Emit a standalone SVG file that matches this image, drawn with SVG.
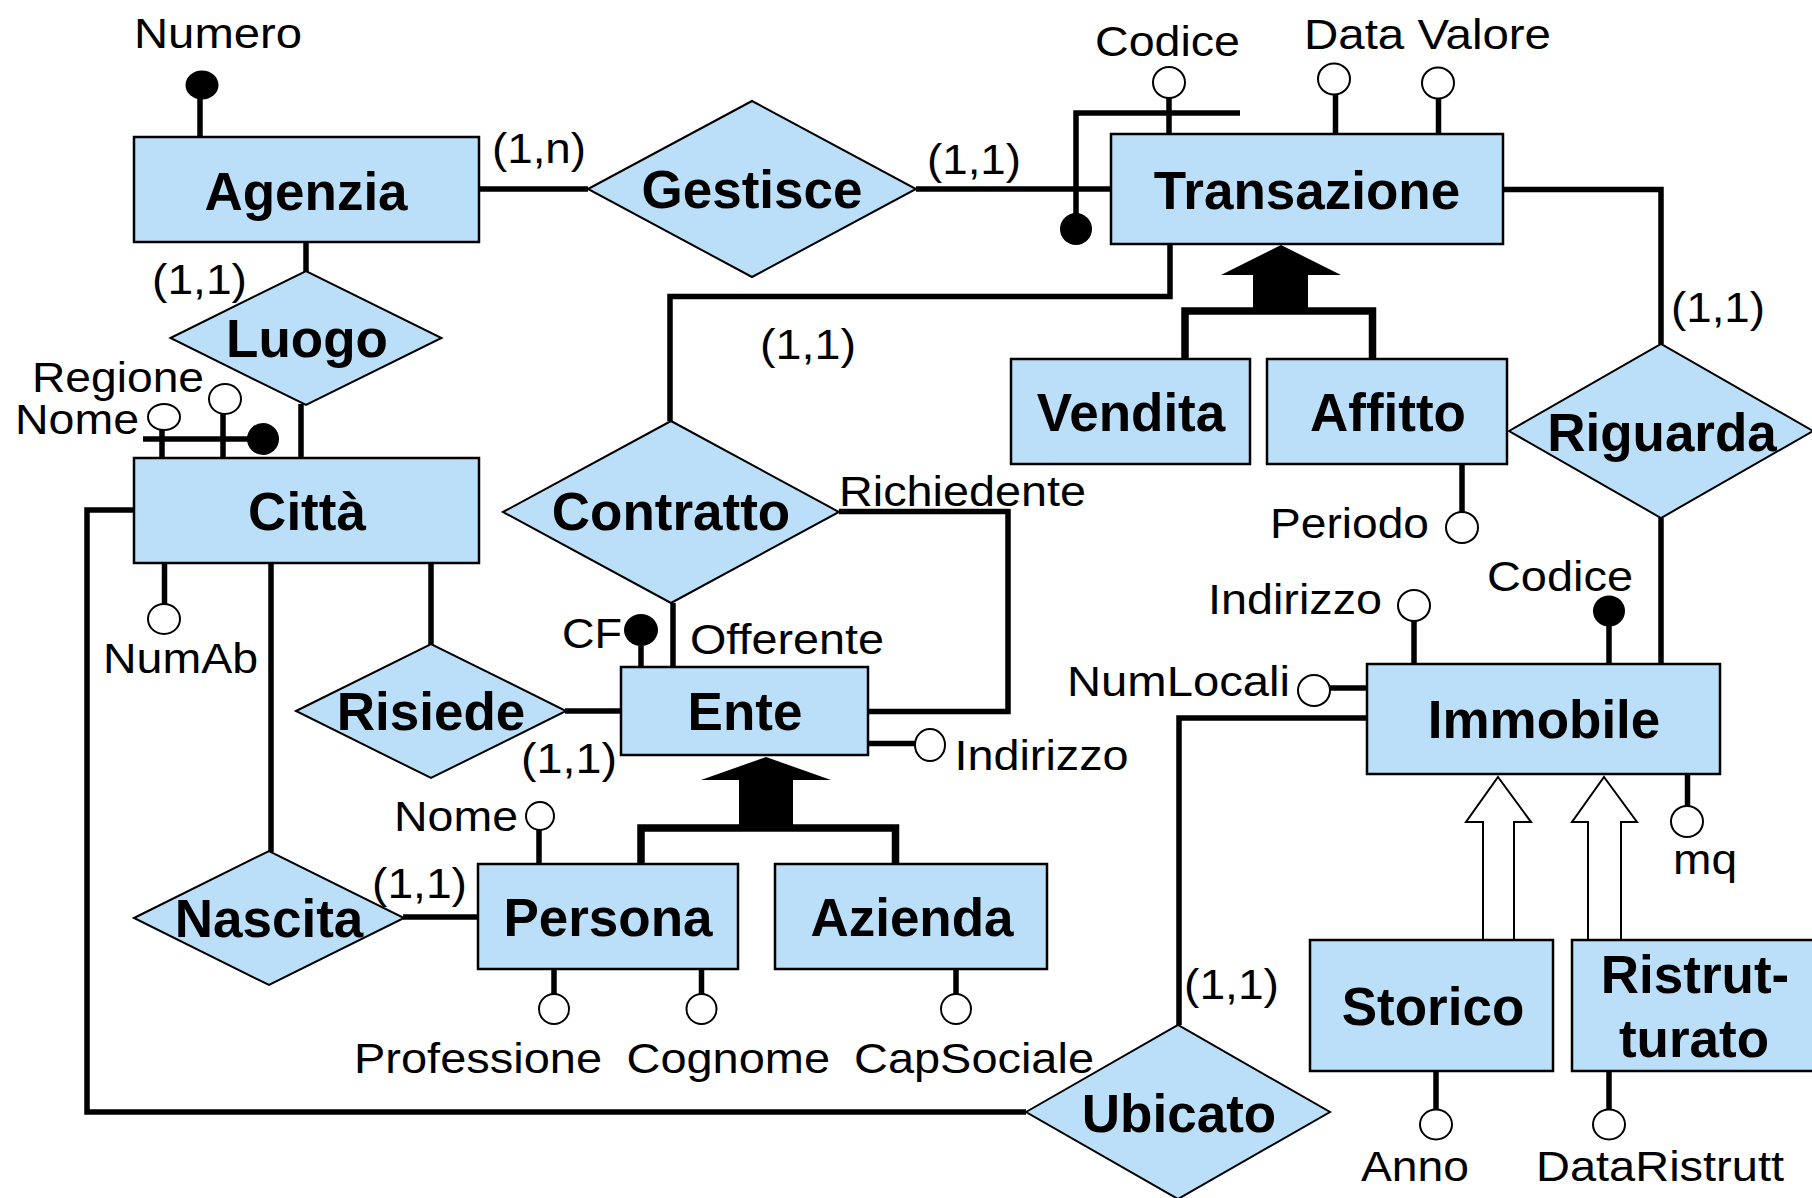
<svg xmlns="http://www.w3.org/2000/svg" width="1812" height="1198" viewBox="0 0 1812 1198">
<style>
.ent{fill:#BBDFF8;stroke:#000;stroke-width:2.5}
.rel{fill:#BBDFF8;stroke:#000;stroke-width:2}
.conn{fill:none;stroke:#000;stroke-width:5.5}
.al{fill:none;stroke:#000;stroke-width:5.5}
.ac{fill:#fff;stroke:#000;stroke-width:2}
.key{fill:#000}
.b{font-family:'Liberation Sans',Arial,sans-serif;font-weight:bold;font-size:53px;text-anchor:middle;fill:#000}
.t{font-family:'Liberation Sans',Arial,sans-serif;font-size:43px;fill:#000}
.isa{fill:#000}
.isaw{fill:#fff;stroke:#000;stroke-width:2}
.bar{fill:none;stroke:#000;stroke-width:7.5}
</style>
<rect width="1812" height="1198" fill="#fff"/>
<g id="connectors">
<path class="conn" d="M479,189 H588"/>
<path class="conn" d="M916,189 H1111"/>
<path class="conn" d="M306,242 V272"/>
<path class="conn" d="M301,404 V458"/>
<path class="conn" d="M1170,244 V296.5 H670 V421"/>
<path class="conn" d="M1503,189.5 H1661 V344"/>
<path class="conn" d="M1661,518 V664"/>
<path class="conn" d="M673,603 V667"/>
<path class="conn" d="M839,511.5 H1008 V711.5 H868"/>
<path class="conn" d="M565,711 H621"/>
<path class="conn" d="M431,563 V645"/>
<path class="conn" d="M271,563 V852"/>
<path class="conn" d="M403,917 H478"/>
<path class="conn" d="M134,510 H87 V1112 H1026"/>
<path class="conn" d="M1367,718 H1179 V1025"/>
<text class="t" x="492" y="163" textLength="94" lengthAdjust="spacingAndGlyphs">(1,n)</text>
<text class="t" x="927" y="174" textLength="94" lengthAdjust="spacingAndGlyphs">(1,1)</text>
<text class="t" x="152" y="294" textLength="95" lengthAdjust="spacingAndGlyphs">(1,1)</text>
<text class="t" x="760" y="359" textLength="96" lengthAdjust="spacingAndGlyphs">(1,1)</text>
<text class="t" x="1671" y="322" textLength="94" lengthAdjust="spacingAndGlyphs">(1,1)</text>
<text class="t" x="839" y="506" textLength="247" lengthAdjust="spacingAndGlyphs">Richiedente</text>
<text class="t" x="690" y="654" textLength="194" lengthAdjust="spacingAndGlyphs">Offerente</text>
<text class="t" x="521" y="773" textLength="96" lengthAdjust="spacingAndGlyphs">(1,1)</text>
<text class="t" x="372" y="898" textLength="95" lengthAdjust="spacingAndGlyphs">(1,1)</text>
<text class="t" x="1184" y="999" textLength="95" lengthAdjust="spacingAndGlyphs">(1,1)</text>
</g>
<g id="agenzia">
<path class="al" d="M200,99 V137"/>
<ellipse class="key" cx="202" cy="85" rx="16.5" ry="14.5"/>
<text class="t" x="134" y="48" textLength="168" lengthAdjust="spacingAndGlyphs">Numero</text>
<rect class="ent" x="134" y="137" width="345" height="105"/>
<text class="b" x="306" y="210">Agenzia</text>
</g>
<g id="gestisce">
<polygon class="rel" points="588,189 752,101 916,189 752,277"/>
<text class="b" x="752" y="208">Gestisce</text>
</g>
<g id="transazione">
<path class="al" d="M1076,229 V113 H1240"/>
<ellipse class="key" cx="1076" cy="229" rx="16" ry="16"/>
<path class="al" d="M1169,98 V134"/>
<ellipse class="ac" cx="1169" cy="82.5" rx="16" ry="15.5"/>
<path class="al" d="M1335.5,94 V134"/>
<ellipse class="ac" cx="1334" cy="79" rx="16" ry="15.5"/>
<path class="al" d="M1438.5,98 V134"/>
<ellipse class="ac" cx="1438" cy="83" rx="16" ry="15.5"/>
<text class="t" x="1095" y="56" textLength="145" lengthAdjust="spacingAndGlyphs">Codice</text>
<text class="t" x="1304" y="49" textLength="247" lengthAdjust="spacingAndGlyphs">Data Valore</text>
<rect class="ent" x="1111" y="134" width="392" height="110"/>
<text class="b" x="1307" y="209">Transazione</text>
<polygon class="isa" points="1281,245 1341,275 1308,275 1308,311 1253,311 1253,275 1221,275"/>
<path class="bar" d="M1185,359 V311 H1372.5 V359"/>
</g>
<g id="luogo">
<polygon class="rel" points="170.5,338 306,271 441.5,338 306,405"/>
<text class="b" x="307" y="357">Luogo</text>
</g>
<g id="vendita">
<rect class="ent" x="1011" y="359" width="239" height="105"/>
<text class="b" x="1131" y="431">Vendita</text>
</g>
<g id="affitto">
<path class="al" d="M1462,464 V512"/>
<ellipse class="ac" cx="1462" cy="527.5" rx="16" ry="15.5"/>
<text class="t" x="1270" y="538" textLength="159" lengthAdjust="spacingAndGlyphs">Periodo</text>
<rect class="ent" x="1267" y="359" width="240" height="105"/>
<text class="b" x="1388" y="431">Affitto</text>
</g>
<g id="riguarda">
<polygon class="rel" points="1509,431 1661,344 1813,431 1661,518"/>
<text class="b" x="1662" y="451">Riguarda</text>
</g>
<g id="citta">
<path class="al" d="M143,439 H263"/>
<ellipse class="key" cx="263" cy="439" rx="16" ry="16"/>
<path class="al" d="M162,430 V458"/>
<ellipse class="ac" cx="164" cy="417" rx="16" ry="13"/>
<path class="al" d="M223,414 V458"/>
<ellipse class="ac" cx="225" cy="399" rx="16" ry="15"/>
<text class="t" x="32" y="391.5" textLength="172" lengthAdjust="spacingAndGlyphs">Regione</text>
<text class="t" x="15" y="434" textLength="124" lengthAdjust="spacingAndGlyphs">Nome</text>
<path class="al" d="M164.5,563 V604"/>
<ellipse class="ac" cx="164" cy="619" rx="16" ry="15"/>
<text class="t" x="103" y="673" textLength="155" lengthAdjust="spacingAndGlyphs">NumAb</text>
<rect class="ent" x="134" y="458" width="345" height="105"/>
<text class="b" x="307" y="530">Città</text>
</g>
<g id="contratto">
<polygon class="rel" points="503,512 671,421 839,512 671,603"/>
<text class="b" x="671" y="530">Contratto</text>
</g>
<g id="risiede">
<polygon class="rel" points="296,711 431,644 566,711 431,778"/>
<text class="b" x="431" y="730">Risiede</text>
</g>
<g id="ente">
<path class="al" d="M641,646 V667"/>
<ellipse class="key" cx="641" cy="630" rx="17" ry="16"/>
<text class="t" x="562" y="648" textLength="60" lengthAdjust="spacingAndGlyphs">CF</text>
<path class="al" d="M868,743.5 H915"/>
<ellipse class="ac" cx="930" cy="745" rx="15" ry="16"/>
<text class="t" x="954.5" y="770" textLength="174" lengthAdjust="spacingAndGlyphs">Indirizzo</text>
<rect class="ent" x="621" y="667" width="247" height="88"/>
<text class="b" x="745" y="730">Ente</text>
<polygon class="isa" points="766,757 831,780 793,780 793,828 739,828 739,780 701,780"/>
<path class="bar" d="M641,864 V828 H895.5 V864"/>
</g>
<g id="immobile">
<path class="al" d="M1414,621 V664"/>
<ellipse class="ac" cx="1414" cy="605.5" rx="16" ry="15.5"/>
<text class="t" x="1208" y="613.5" textLength="174" lengthAdjust="spacingAndGlyphs">Indirizzo</text>
<path class="al" d="M1609,611 V664"/>
<ellipse class="key" cx="1609" cy="611" rx="16" ry="15.5"/>
<text class="t" x="1487" y="591" textLength="146" lengthAdjust="spacingAndGlyphs">Codice</text>
<path class="al" d="M1330,688 H1367"/>
<ellipse class="ac" cx="1314" cy="690.5" rx="16" ry="15.5"/>
<text class="t" x="1067" y="696" textLength="223" lengthAdjust="spacingAndGlyphs">NumLocali</text>
<path class="al" d="M1687.5,774 V806"/>
<ellipse class="ac" cx="1687" cy="821.5" rx="16" ry="15.5"/>
<text class="t" x="1673" y="874" textLength="64" lengthAdjust="spacingAndGlyphs">mq</text>
<rect class="ent" x="1367" y="664" width="353" height="110"/>
<text class="b" x="1544" y="738">Immobile</text>
<polygon class="isaw" points="1498,777 1531,822 1514,822 1514,940 1483,940 1483,822 1466,822"/>
<polygon class="isaw" points="1604,777 1637,822 1621,822 1621,940 1588,940 1588,822 1572,822"/>
</g>
<g id="nascita">
<polygon class="rel" points="134,918 269,851 404,918 269,985"/>
<text class="b" x="269" y="937">Nascita</text>
</g>
<g id="persona">
<path class="al" d="M539,830 V864"/>
<ellipse class="ac" cx="540" cy="816" rx="14" ry="14"/>
<text class="t" x="394" y="830.5" textLength="124" lengthAdjust="spacingAndGlyphs">Nome</text>
<path class="al" d="M554,969 V995"/>
<ellipse class="ac" cx="554" cy="1009" rx="15" ry="15"/>
<text class="t" x="354" y="1073" textLength="248" lengthAdjust="spacingAndGlyphs">Professione</text>
<path class="al" d="M701.5,969 V995"/>
<ellipse class="ac" cx="701.5" cy="1009" rx="15" ry="15"/>
<text class="t" x="626.5" y="1073" textLength="203.5" lengthAdjust="spacingAndGlyphs">Cognome</text>
<rect class="ent" x="478" y="864" width="260" height="105"/>
<text class="b" x="608" y="936">Persona</text>
</g>
<g id="azienda">
<path class="al" d="M956,969 V995"/>
<ellipse class="ac" cx="956" cy="1009" rx="15" ry="15"/>
<text class="t" x="854" y="1073" textLength="240" lengthAdjust="spacingAndGlyphs">CapSociale</text>
<rect class="ent" x="775" y="864" width="272" height="105"/>
<text class="b" x="912" y="936">Azienda</text>
</g>
<g id="storico">
<path class="al" d="M1436,1071 V1110"/>
<ellipse class="ac" cx="1436" cy="1124.5" rx="16" ry="15"/>
<text class="t" x="1361" y="1181" textLength="108" lengthAdjust="spacingAndGlyphs">Anno</text>
<rect class="ent" x="1310" y="940" width="243" height="131"/>
<text class="b" x="1433" y="1024.5">Storico</text>
</g>
<g id="ristrutturato">
<path class="al" d="M1609,1071 V1110"/>
<ellipse class="ac" cx="1609" cy="1124.5" rx="16" ry="15"/>
<text class="t" x="1536" y="1181" textLength="248" lengthAdjust="spacingAndGlyphs">DataRistrutt</text>
<rect class="ent" x="1572" y="940" width="245" height="131"/>
<text class="b" x="1695" y="993">Ristrut-</text>
<text class="b" x="1694" y="1056.5">turato</text>
</g>
<g id="ubicato">
<polygon class="rel" points="1026,1112 1178,1025 1330,1112 1178,1199"/>
<text class="b" x="1179" y="1132">Ubicato</text>
</g>
</svg>
